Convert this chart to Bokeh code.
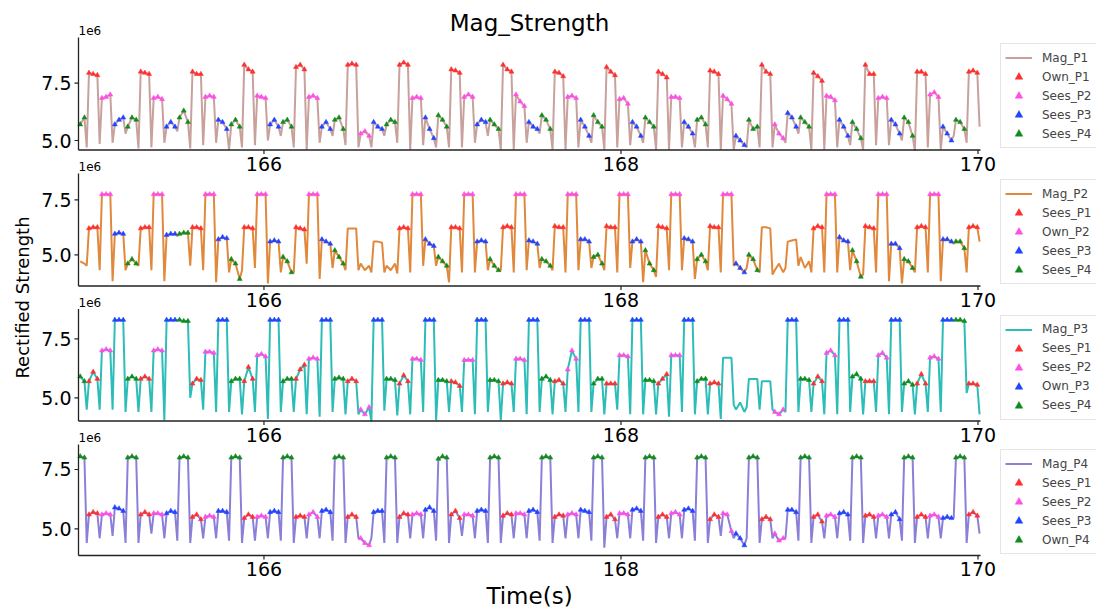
import numpy as np
from bokeh.plotting import figure
from bokeh.models import Range1d, Legend, LegendItem, ColumnDataSource
from bokeh.core.properties import value
from bokeh.embed import file_html
from bokeh.resources import INLINE

# ---------------- data (magnitudes in units of 1e6) ----------------
# sampling grid: one transmit cycle = 4 slots (P1..P4)
T_CYCLE0 = 165.0196        # start of the first full P1 slot (s)
SLOT = 0.07249             # slot length (s)
SAMPLE_OFFSETS = [0.0, 0.0235, 0.0471, 0.0599]   # 3 plateau samples + 1 dip per slot
FIRST_SLOT, LAST_SLOT = -1, 68
X_LIM = (164.961, 170.014)
X_TICKS = [166, 168, 170]
Y_TICKS = [5.0, 7.5]

P1_MAG = [5.7, 6.0, 4.7,
    7.95, 7.9, 7.85, 4.85, 6.85, 6.9, 7.0, 4.9, 5.7, 5.9, 6.0, 5.3, 5.6, 6.0, 5.9, 4.65,
    8.0, 7.95, 7.9, 4.7, 6.85, 6.9, 6.8, 4.9, 5.6, 5.8, 5.6, 5.4, 6.0, 6.3, 5.8, 4.65,
    8.0, 7.9, 7.9, 4.8, 6.9, 6.95, 6.9, 4.9, 5.9, 5.8, 5.5, 4.6, 5.7, 5.9, 5.6, 4.7,
    8.3, 8.1, 8.0, 4.8, 6.95, 6.9, 6.85, 5.0, 5.7, 5.9, 5.6, 5.2, 5.8, 5.9, 5.6, 4.7,
    8.2, 8.3, 8.1, 4.6, 6.9, 6.95, 6.85, 4.9, 5.6, 5.8, 5.5, 5.2, 5.9, 6.0, 5.5, 4.8,
    8.3, 8.35, 8.3, 4.7, 5.3, 5.4, 5.2, 4.7, 5.8, 5.6, 5.5, 5.2, 5.7, 5.9, 5.8, 4.9,
    8.3, 8.4, 8.3, 4.6, 6.85, 6.9, 6.85, 4.8, 6.0, 5.5, 5.1, 4.7, 6.1, 5.9, 5.6, 4.7,
    8.1, 8.05, 7.95, 4.7, 6.9, 7.0, 6.9, 4.9, 5.7, 5.9, 5.8, 5.2, 5.9, 5.7, 5.5, 4.6,
    8.3, 8.1, 8.0, 4.6, 7.0, 6.7, 6.5, 4.9, 5.8, 5.6, 5.5, 5.3, 6.1, 5.9, 5.5, 4.6,
    8.0, 7.95, 7.8, 4.6, 6.9, 6.95, 6.85, 4.7, 5.9, 5.6, 5.2, 4.9, 6.1, 5.8, 5.6, 4.6,
    8.2, 8.0, 7.85, 4.7, 6.8, 6.85, 6.6, 4.8, 5.8, 5.6, 5.2, 4.9, 6.0, 5.8, 5.6, 4.6,
    8.0, 7.9, 7.75, 4.6, 6.9, 6.9, 6.85, 4.7, 5.8, 5.6, 5.3, 4.7, 5.9, 6.0, 5.7, 4.7,
    8.05, 8.0, 7.9, 4.6, 6.95, 6.8, 6.6, 4.6, 5.2, 5.0, 4.8, 4.7, 5.9, 5.5, 5.6, 4.7,
    8.3, 8.0, 7.9, 4.7, 5.7, 5.3, 5.1, 4.9, 6.2, 6.0, 5.6, 5.3, 6.0, 5.8, 5.6, 4.6,
    7.95, 7.8, 7.6, 4.6, 6.95, 6.9, 6.75, 4.7, 5.9, 5.6, 5.2, 4.8, 5.8, 5.5, 5.1, 4.6,
    8.3, 7.9, 7.9, 4.8, 6.85, 6.9, 6.85, 4.8, 5.9, 5.7, 5.3, 5.0, 6.0, 5.8, 5.2, 4.55,
    8.0, 8.0, 7.9, 4.7, 7.0, 7.1, 6.9, 4.6, 5.6, 5.3, 5.0, 5.2, 5.9, 5.8, 5.5, 4.9,
    8.0, 8.05, 7.95, 5.6]

P2_MAG = [4.7, 4.6, 4.5,
    6.2, 6.25, 6.25, 4.3, 7.75, 7.75, 7.75, 3.8, 5.95, 6.0, 5.95, 4.3, 4.6, 4.8, 4.6, 4.5,
    6.2, 6.25, 6.25, 4.3, 7.75, 7.75, 7.75, 3.8, 5.9, 5.95, 5.95, 5.85, 5.95, 6.0, 6.0, 4.5,
    6.25, 6.25, 6.2, 4.3, 7.75, 7.75, 7.75, 3.75, 5.7, 5.8, 5.75, 4.2, 4.8, 4.6, 3.9, 4.3,
    6.25, 6.25, 6.2, 4.4, 7.75, 7.75, 7.75, 3.7, 5.6, 5.65, 5.6, 4.2, 4.9, 4.7, 4.2, 4.2,
    6.25, 6.2, 6.15, 4.6, 7.75, 7.75, 7.75, 3.9, 5.7, 5.6, 5.5, 4.4, 5.2, 4.9, 4.6, 4.3,
    6.2, 6.2, 6.2, 4.3, 4.6, 4.3, 4.5, 4.2, 5.6, 5.6, 5.55, 4.2, 4.5, 4.3, 4.6, 4.15,
    6.2, 6.25, 6.2, 4.2, 7.75, 7.75, 7.75, 4.5, 5.7, 5.5, 5.4, 4.5, 4.9, 4.7, 4.5, 3.75,
    6.25, 6.25, 6.2, 4.2, 7.75, 7.75, 7.75, 4.2, 5.6, 5.65, 5.6, 4.3, 4.8, 4.5, 4.3, 4.3,
    6.25, 6.3, 6.25, 4.2, 7.75, 7.75, 7.75, 4.3, 5.65, 5.6, 5.5, 4.4, 4.8, 4.7, 4.5, 4.3,
    6.3, 6.25, 6.25, 4.2, 7.75, 7.75, 7.75, 4.3, 5.7, 5.7, 5.6, 4.4, 4.9, 5.0, 4.6, 4.3,
    6.3, 6.25, 6.25, 4.2, 7.75, 7.75, 7.75, 4.4, 5.6, 5.7, 5.6, 3.75, 5.2, 4.6, 4.3, 4.0,
    6.3, 6.25, 6.2, 4.3, 7.75, 7.75, 7.75, 4.3, 5.75, 5.7, 5.6, 3.9, 4.8, 5.0, 4.7, 4.3,
    6.3, 6.25, 6.25, 4.2, 7.75, 7.75, 7.75, 4.5, 4.6, 4.4, 4.2, 4.4, 5.0, 4.8, 4.3, 4.2,
    6.25, 6.25, 6.2, 4.1, 4.3, 4.6, 4.2, 4.4, 5.6, 5.65, 5.7, 4.5, 4.9, 4.4, 4.7, 4.2,
    6.2, 6.3, 6.25, 4.2, 7.75, 7.75, 7.75, 4.2, 5.8, 5.65, 5.6, 4.3, 5.2, 4.7, 4.0, 4.1,
    6.3, 6.25, 6.2, 4.2, 7.75, 7.75, 7.75, 3.8, 5.5, 5.5, 5.3, 3.7, 4.8, 4.7, 4.4, 4.2,
    6.25, 6.3, 6.25, 4.2, 7.75, 7.75, 7.75, 3.8, 5.7, 5.7, 5.6, 5.5, 5.6, 5.6, 5.3, 4.2,
    6.25, 6.3, 6.25, 5.6]

P3_MAG = [5.9, 5.7, 4.5,
    5.7, 6.1, 5.8, 4.5, 7.0, 7.05, 7.0, 4.5, 8.3, 8.3, 8.3, 4.4, 5.8, 5.9, 5.8, 4.4,
    5.8, 5.9, 5.8, 4.4, 7.0, 7.05, 7.0, 4.05, 8.3, 8.3, 8.3, 8.3, 8.3, 8.25, 8.25, 5.0,
    5.6, 5.8, 5.75, 4.5, 6.95, 6.95, 6.9, 4.4, 8.3, 8.3, 8.3, 4.4, 5.7, 5.8, 5.8, 4.3,
    5.7, 6.3, 5.8, 4.4, 6.8, 6.85, 6.75, 4.1, 8.3, 8.3, 8.3, 4.4, 5.7, 5.8, 5.8, 4.4,
    5.8, 6.2, 6.4, 4.3, 6.65, 6.7, 6.65, 4.2, 8.3, 8.3, 8.3, 4.4, 5.8, 5.85, 5.8, 4.3,
    5.7, 5.8, 5.7, 4.3, 4.5, 4.3, 4.6, 4.0, 8.3, 8.3, 8.3, 4.45, 5.8, 5.8, 5.75, 4.25,
    5.6, 5.95, 5.7, 4.3, 6.65, 6.65, 6.6, 4.4, 8.3, 8.3, 8.3, 4.05, 5.75, 5.75, 5.7, 4.4,
    5.7, 5.65, 5.5, 4.4, 6.6, 6.6, 6.6, 4.3, 8.3, 8.3, 8.3, 4.4, 5.75, 5.75, 5.7, 4.05,
    5.6, 5.65, 5.6, 4.4, 6.65, 6.65, 6.6, 4.3, 8.3, 8.3, 8.3, 4.4, 5.8, 5.9, 5.75, 4.3,
    5.7, 5.75, 5.6, 4.4, 6.2, 7.0, 6.65, 4.4, 8.3, 8.3, 8.3, 4.4, 5.6, 5.8, 5.8, 4.3,
    5.6, 5.6, 5.6, 4.5, 6.8, 6.8, 6.75, 4.3, 8.3, 8.3, 8.3, 4.3, 5.75, 5.75, 5.7, 4.3,
    5.6, 5.8, 6.0, 4.2, 6.8, 6.8, 6.8, 4.4, 8.3, 8.3, 8.3, 4.3, 5.7, 5.8, 5.8, 4.3,
    5.6, 5.65, 5.6, 4.1, 6.7, 6.7, 6.7, 4.7, 4.5, 4.8, 4.4, 4.6, 5.8, 5.8, 5.8, 4.5,
    5.7, 5.7, 5.7, 4.5, 4.4, 4.3, 4.5, 4.4, 8.3, 8.3, 8.3, 4.4, 5.8, 5.8, 5.75, 4.4,
    5.6, 5.9, 5.7, 4.3, 6.9, 7.0, 6.8, 4.3, 8.3, 8.3, 8.3, 4.4, 5.9, 6.0, 5.8, 4.3,
    5.7, 5.7, 5.7, 4.4, 6.8, 6.9, 6.7, 4.3, 8.3, 8.3, 8.3, 4.4, 5.6, 5.7, 5.55, 4.3,
    5.6, 6.0, 5.6, 4.4, 6.7, 6.75, 6.65, 4.4, 8.3, 8.3, 8.3, 8.3, 8.3, 8.3, 8.25, 5.2,
    5.6, 5.6, 5.55, 4.3]

P4_MAG = [8.05, 8.0, 4.4,
    5.6, 5.7, 5.65, 4.6, 5.6, 5.65, 5.6, 4.7, 5.9, 5.85, 5.75, 4.4, 8.0, 8.05, 8.0, 4.4,
    5.6, 5.7, 5.6, 4.8, 5.65, 5.65, 5.6, 4.6, 5.65, 5.75, 5.7, 4.5, 8.0, 8.05, 8.0, 4.4,
    5.5, 5.6, 5.4, 4.6, 5.5, 5.55, 5.5, 4.6, 5.75, 5.75, 5.7, 4.5, 8.0, 8.05, 8.0, 4.4,
    5.45, 5.6, 5.5, 4.5, 5.5, 5.55, 5.5, 4.6, 5.7, 5.75, 5.7, 4.5, 8.0, 8.05, 8.0, 4.4,
    5.5, 5.55, 5.5, 4.6, 5.6, 5.7, 5.5, 4.6, 5.75, 5.8, 5.7, 4.5, 8.0, 8.05, 8.0, 4.4,
    5.5, 5.6, 5.5, 4.6, 4.6, 4.4, 4.3, 4.6, 5.7, 5.75, 5.75, 4.4, 8.0, 8.05, 8.0, 4.4,
    5.5, 5.65, 5.6, 4.6, 5.6, 5.65, 5.6, 4.6, 5.8, 5.9, 5.75, 4.5, 7.95, 8.05, 8.0, 4.4,
    5.6, 5.75, 5.45, 4.7, 5.6, 5.6, 5.55, 4.6, 5.75, 5.8, 5.75, 4.4, 8.0, 8.05, 8.0, 4.4,
    5.55, 5.65, 5.6, 4.6, 5.65, 5.65, 5.6, 4.6, 5.75, 5.8, 5.7, 4.5, 8.0, 8.05, 8.0, 4.4,
    5.5, 5.6, 5.55, 4.6, 5.6, 5.65, 5.6, 4.6, 5.8, 5.75, 5.7, 4.5, 8.0, 8.05, 8.0, 4.2,
    5.5, 5.6, 5.4, 4.6, 5.65, 5.65, 5.6, 4.6, 5.8, 5.85, 5.75, 4.5, 8.0, 8.05, 8.0, 4.4,
    5.5, 5.6, 5.5, 4.6, 5.65, 5.7, 5.6, 4.6, 5.8, 5.85, 5.75, 4.5, 8.0, 8.05, 8.0, 4.4,
    5.4, 5.6, 5.5, 4.7, 5.65, 5.6, 4.9, 4.6, 4.8, 4.6, 4.3, 4.6, 8.0, 8.05, 8.0, 4.4,
    5.4, 5.5, 5.4, 4.6, 4.8, 4.5, 4.6, 4.6, 5.8, 5.8, 5.7, 4.5, 8.0, 8.05, 8.0, 4.4,
    5.5, 5.6, 5.3, 4.6, 5.55, 5.6, 5.5, 4.6, 5.65, 5.7, 5.6, 4.5, 8.0, 8.05, 8.0, 4.4,
    5.55, 5.6, 5.5, 4.6, 5.55, 5.6, 5.5, 4.6, 5.6, 5.7, 5.4, 4.5, 8.0, 8.05, 8.0, 4.4,
    5.5, 5.6, 5.5, 4.6, 5.55, 5.6, 5.5, 4.6, 5.45, 5.5, 5.45, 5.45, 8.0, 8.05, 8.0, 4.4,
    5.6, 5.7, 5.55, 4.8]

# marker category of every sample: r = P1, m = P2, b = P3, g = P4, . = none
FULL = "rrr.mmm.bbb.ggg."
NONE = "................"
P1_MARKS = ["gg."] + [FULL] * 17 + ["rrr."]
P2_MARKS = ["..."] + [FULL] * 5 + [NONE] + [FULL] * 7 + [NONE] + [FULL] * 3 + ["rrr."]
P3_MARKS = (["gg."] + [FULL] * 12 + ["rrr............."] + ["....mmm.bbb.ggg."]
            + [FULL] * 3 + ["rrr."])
P4_MARKS = ["gg."] + [FULL] * 17 + ["rrr."]

PANELS = [
    dict(values=P1_MAG, marks="".join(P1_MARKS), name="Mag_P1", color="#c8a19c",
         labels=["Own_P1", "Sees_P2", "Sees_P3", "Sees_P4"], ylim=(4.586, 9.494)),
    dict(values=P2_MAG, marks="".join(P2_MARKS), name="Mag_P2", color="#e0893c",
         labels=["Sees_P1", "Own_P2", "Sees_P3", "Sees_P4"], ylim=(3.582, 8.695)),
    dict(values=P3_MAG, marks="".join(P3_MARKS), name="Mag_P3", color="#2cbdb8",
         labels=["Sees_P1", "Sees_P2", "Own_P3", "Sees_P4"], ylim=(4.017, 8.763)),
    dict(values=P4_MAG, marks="".join(P4_MARKS), name="Mag_P4", color="#8a80d8",
         labels=["Sees_P1", "Sees_P2", "Sees_P3", "Own_P4"], ylim=(3.874, 8.554)),
]
MARK_CODES = ["r", "m", "b", "g"]
MARK_COLORS = ["#ff2f2f", "#ff4fe6", "#2244ff", "#138a1c"]

# ---------------- layout (pixels from the top-left of the page) ----------------
W, H = 1096, 609
PANEL_LEFT, PANEL_RIGHT = 78, 980
PANEL_TOP = [37, 173, 308.5, 444]
PANEL_BOTTOM = [149.5, 285.5, 420.5, 555]
LEGEND_LEFT = 1000
LEGEND_BOTTOM = [148, 284, 419.5, 554]
FONT = "DejaVu Sans"
AX_COLOR = "#222222"

# sample times on the grid
times = np.array([T_CYCLE0 + s * SLOT + o
                  for s in range(FIRST_SLOT, LAST_SLOT + 1) for o in SAMPLE_OFFSETS])
times = times[(times >= X_LIM[0]) & (times <= X_LIM[1])]

xpp = (PANEL_RIGHT - PANEL_LEFT) / (X_LIM[1] - X_LIM[0])
p = figure(width=W, height=H, output_backend="svg", toolbar_location=None,
           x_range=Range1d(X_LIM[0] - PANEL_LEFT / xpp, X_LIM[1] + (W - PANEL_RIGHT) / xpp),
           y_range=Range1d(0, H), x_axis_location=None, y_axis_location=None,
           min_border=0)
p.grid.visible = False
p.outline_line_color = None
p.background_fill_color = "white"
p.border_fill_color = "white"

extra = {}
for i, pan in enumerate(PANELS):
    lo, hi = pan["ylim"]
    ypp = (PANEL_BOTTOM[i] - PANEL_TOP[i]) / (hi - lo)
    extra[f"panel{i}"] = Range1d(lo - (H - PANEL_BOTTOM[i]) / ypp, hi + PANEL_TOP[i] / ypp)
p.extra_y_ranges = extra

for i, pan in enumerate(PANELS):
    rn = f"panel{i}"
    lo, hi = pan["ylim"]
    ypp = (PANEL_BOTTOM[i] - PANEL_TOP[i]) / (hi - lo)
    vals = np.array(pan["values"], dtype=float)
    assert len(vals) == len(times) == len(pan["marks"]), (i, len(vals), len(times), len(pan["marks"]))

    src = ColumnDataSource(dict(t=times, v=vals))
    line_r = p.line("t", "v", source=src, y_range_name=rn, line_color=pan["color"], line_width=2)
    items = [LegendItem(label=pan["name"], renderers=[line_r])]
    for code, col, lab in zip(MARK_CODES, MARK_COLORS, pan["labels"]):
        idx = [k for k, ch in enumerate(pan["marks"]) if ch == code]
        s = ColumnDataSource(dict(t=times[idx], v=vals[idx]))
        r = p.scatter("t", "v", source=s, y_range_name=rn, marker="triangle", size=5,
                      fill_color=col, line_color=col, line_width=0.5)
        items.append(LegendItem(label=lab, renderers=[r]))

    # spines (left and bottom)
    p.segment(x0=[X_LIM[0], X_LIM[0]], y0=[lo, lo], x1=[X_LIM[0], X_LIM[1]], y1=[hi, lo],
              y_range_name=rn, line_color=AX_COLOR, line_width=1.3)
    # ticks
    p.segment(x0=X_TICKS, y0=[lo] * len(X_TICKS), x1=X_TICKS,
              y1=[lo - 4 / ypp] * len(X_TICKS), y_range_name=rn,
              line_color=AX_COLOR, line_width=1.2)
    p.segment(x0=[X_LIM[0] - 4 / xpp] * len(Y_TICKS), y0=Y_TICKS,
              x1=[X_LIM[0]] * len(Y_TICKS), y1=Y_TICKS, y_range_name=rn,
              line_color=AX_COLOR, line_width=1.2)
    # tick labels
    p.text(x=X_TICKS, y=[lo - 13.5 / ypp] * len(X_TICKS), text=[str(v) for v in X_TICKS],
           y_range_name=rn, text_align="center", text_baseline="middle",
           text_font=value(FONT), text_font_size="19px", text_color="black")
    p.text(x=[X_LIM[0] - 7 / xpp] * len(Y_TICKS), y=Y_TICKS, text=["%.1f" % v for v in Y_TICKS],
           y_range_name=rn, text_align="right", text_baseline="middle",
           text_font=value(FONT), text_font_size="19px", text_color="black")
    # offset text
    p.text(x=[X_LIM[0]], y=[hi + 7 / ypp], text=["1e6"], y_range_name=rn,
           text_align="left", text_baseline="middle",
           text_font=value(FONT), text_font_size="12px", text_color="black")

    leg = Legend(items=items, location=(LEGEND_LEFT, H - LEGEND_BOTTOM[i]),
                 label_text_font=FONT, label_text_font_size="12px",
                 glyph_width=27, glyph_height=19, label_height=19, label_standoff=10,
                 spacing=0, padding=4, margin=0,
                 border_line_color="#cccccc", border_line_width=1,
                 background_fill_color="white", background_fill_alpha=1.0)
    p.add_layout(leg)

# title, axis titles
p.text(x=[(X_LIM[0] + X_LIM[1]) / 2], y=[H - 22], text=["Mag_Strength"],
       text_align="center", text_baseline="middle", text_font=value(FONT),
       text_font_size="23px", text_color="black")
p.text(x=[(X_LIM[0] + X_LIM[1]) / 2], y=[H - 595], text=["Time(s)"],
       text_align="center", text_baseline="middle", text_font=value(FONT),
       text_font_size="23px", text_color="black")
p.text(x=[X_LIM[0] - 56 / xpp], y=[H - 297], text=["Rectified Strength"], angle=np.pi / 2,
       text_align="center", text_baseline="middle", text_font=value(FONT),
       text_font_size="18px", text_color="black")

open("out.html", "w").write(file_html(p, INLINE))
